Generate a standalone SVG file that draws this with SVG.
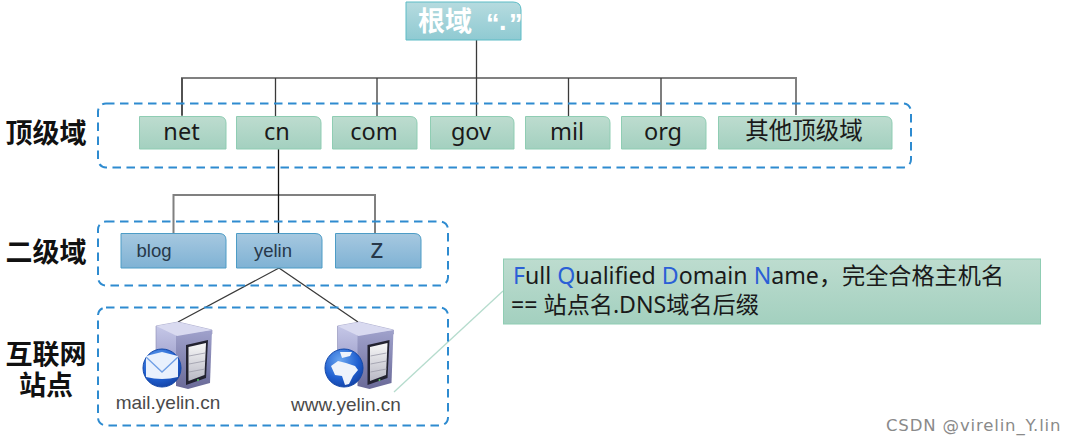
<svg xmlns="http://www.w3.org/2000/svg" width="1068" height="442" viewBox="0 0 1068 442">
<style>
.dash{fill:none;stroke:#2e8bd0;stroke-width:2;stroke-dasharray:8.5 5.5}
.gb{fill:url(#g);stroke:#8fcdb3;stroke-width:1}
.bb{fill:url(#b);stroke:#4d9cc6;stroke-width:1}
.h{fill:none;stroke:#808080;stroke-width:2}
.v{fill:none;stroke:#3a3a3a;stroke-width:1.3}
.t{font-family:"Noto Sans","Noto Sans CJK SC",sans-serif;font-size:23.500px;fill:#1a1a1a;text-anchor:middle}
.l{font-family:"Noto Sans CJK SC",sans-serif;font-size:27px;font-weight:700;fill:#111;text-anchor:middle}
.a{font-family:"Liberation Sans",sans-serif;font-size:18.5px;fill:#27384a;text-anchor:middle}
.s{font-family:"Liberation Sans",sans-serif;font-size:19px;fill:#4a4a4a;text-anchor:middle}
.c{font-family:"Noto Sans","Noto Sans CJK SC",sans-serif;font-size:23.150px;fill:#1a1a1a}
.k{fill:#2a5fd6}
</style>
<defs>
<linearGradient id="g" x1="0" y1="0" x2="0" y2="1"><stop offset="0" stop-color="#bddccf"/><stop offset="1" stop-color="#a3d0bf"/></linearGradient>
<linearGradient id="b" x1="0" y1="0" x2="0" y2="1"><stop offset="0" stop-color="#a6c8e0"/><stop offset="1" stop-color="#7fb2d4"/></linearGradient>
<linearGradient id="r" x1="0" y1="0" x2="0" y2="1"><stop offset="0" stop-color="#b6dbdf"/><stop offset="1" stop-color="#8fcad2"/></linearGradient>
<linearGradient id="sf" x1="0" y1="0" x2="0" y2="1"><stop offset="0" stop-color="#c9cbea"/><stop offset="1" stop-color="#8f90c0"/></linearGradient>
<linearGradient id="sr" x1="0" y1="0" x2="0" y2="1"><stop offset="0" stop-color="#a0a2cc"/><stop offset="1" stop-color="#6a6a98"/></linearGradient>
<linearGradient id="sc" x1="0" y1="0" x2="0" y2="1"><stop offset="0" stop-color="#f8f8f8"/><stop offset="1" stop-color="#b8b8c4"/></linearGradient>
<radialGradient id="gl" cx="0.4" cy="0.3" r="0.8"><stop offset="0" stop-color="#6aa6f0"/><stop offset="0.6" stop-color="#1f5fd0"/><stop offset="1" stop-color="#123c9a"/></radialGradient>
<g id="srv">
<path d="M156 326L178 322L212 330L212 334L178 339L176 380L156 372Z" fill="url(#sf)" stroke="#8a8ab4" stroke-width=".6"/>
<path d="M176 335L212 330L210 383L188 389L176 386Z" fill="url(#sr)"/>
<path d="M156 326L178 322L212 330L177 336Z" fill="#d9daf0"/>
<path d="M186 345L208 340L206 378L186 385Z" fill="#222230"/>
<path d="M188.500 347L206 343L204.500 375L188.500 381Z" fill="url(#sc)"/>
<path d="M189 356L205 353M189 364L205 361M189 372L205 369" stroke="#9a9aa8" stroke-width=".8" fill="none"/>
<circle cx="198" cy="380" r="1" fill="#55cc66"/>
</g>
</defs>
<rect width="1068" height="442" fill="#fff"/>
<g id="connectors">
<path class="h" d="M182 115V78H796V115"/>
<path class="v" d="M476.500 40V116M568.500 78V116M661 78V116M275.500 78V116M377 78V116M182 78V116"/>
<path class="h" d="M173.500 233V195H375V233"/>
<path d="M278.500 149V233" fill="none" stroke="#111" stroke-width="1.300"/>
<path class="v" d="M279 268L178 322M279 268L358 322"/>
<path d="M394 392L503 291" fill="none" stroke="#b5dccd" stroke-width="1.300"/>
</g>
<g id="group-top"><rect class="dash" x="98" y="103.500" width="813" height="64" rx="8"/></g>
<g id="group-second"><rect class="dash" x="98" y="221.500" width="350" height="64" rx="8"/></g>
<g id="group-sites"><rect class="dash" x="98" y="307.500" width="350" height="118" rx="8"/></g>
<g id="root"><path d="M406 2H513Q521 2 521 10V40H406Z" fill="url(#r)" stroke="#5dbcc6"/><text x="418" y="31" font-family="Noto Sans CJK SC,sans-serif" font-size="27" font-weight="700" fill="#fff">根域<tspan font-family="Liberation Sans,sans-serif" x="486" y="33">“</tspan><tspan font-family="Liberation Sans,sans-serif" x="499" y="30">.</tspan><tspan font-family="Liberation Sans,sans-serif" x="509" y="33">”</tspan></text></g>
<g id="net"><path class="gb" d="M139.500 116.500H219Q226 116.500 226 123V149H139.500Z"/><text class="t" x="181.500" y="140">net</text></g>
<g id="cn"><path class="gb" d="M236.500 116.500H314Q321 116.500 321 123V149H236.500Z"/><text class="t" x="277" y="140">cn</text></g>
<g id="com"><path class="gb" d="M332.500 116.500H410Q417 116.500 417 123V149H332.500Z"/><text class="t" x="374" y="140">com</text></g>
<g id="gov"><path class="gb" d="M430.500 116.500H507Q514 116.500 514 123V149H430.500Z"/><text class="t" x="471" y="140">gov</text></g>
<g id="mil"><path class="gb" d="M525.500 116.500H603Q610 116.500 610 123V149H525.500Z"/><text class="t" x="567" y="140">mil</text></g>
<g id="org"><path class="gb" d="M621.500 116.500H699Q706 116.500 706 123V149H621.500Z"/><text class="t" x="663" y="140">org</text></g>
<g id="other"><path class="gb" d="M718.500 116.500H885Q892 116.500 892 123V149H718.500Z"/><text class="t" x="804" y="139">其他顶级域</text></g>
<g id="blog"><path class="bb" d="M121 233.500H219Q226 233.500 226 240V268H121Z"/><text class="a" x="154" y="257">blog</text></g>
<g id="yelin"><path class="bb" d="M236.500 233.500H315Q322 233.500 322 240V268H236.500Z"/><text class="a" x="273" y="257">yelin</text></g>
<g id="z"><path class="bb" d="M335.500 233.500H414Q421 233.500 421 240V268H335.500Z"/><text class="a" x="377" y="257.500" style="font-size:27px">z</text></g>
<g id="label-top"><text class="l" x="46" y="143">顶级域</text></g>
<g id="label-second"><text class="l" x="46" y="262">二级域</text></g>
<g id="label-sites"><text class="l" x="46" y="364">互联网</text><text class="l" x="46" y="395">站点</text></g>
<g id="mail">
<use href="#srv"/>
<circle cx="162" cy="368" r="19" fill="url(#gl)" stroke="#1347a8"/>
<path d="M146 356L162 352L178 356V377Q162 381 146 377Z" fill="#e9f1fd"/>
<path d="M146 357L162 372L178 357" fill="none" stroke="#6f9fe6" stroke-width="1.300"/>
<text class="s" x="168" y="409">mail.yelin.cn</text>
</g>
<g id="www">
<use href="#srv" x="181.500"/>
<circle cx="344" cy="368" r="19" fill="url(#gl)" stroke="#1347a8"/>
<path d="M340 352L352 352L350 356L342 358ZM331 366L338 361L346 363L355 366L358 370L353 376L349 384L345 385L342 376L335 375Z" fill="#eef3fb"/>
<text class="s" x="346" y="411">www.yelin.cn</text>
</g>
<g id="note">
<rect x="503.500" y="259" width="537" height="65" fill="url(#g)" stroke="#8fcdb3"/>
<text class="c" x="513" y="284"><tspan class="k">F</tspan>ull <tspan class="k">Q</tspan>ualified <tspan class="k">D</tspan>omain <tspan class="k">N</tspan>ame，完全合格主机名</text>
<text class="c" x="511" y="313">== 站点名.DNS域名后缀</text>
</g>
<text x="886" y="431" font-family="DejaVu Sans,sans-serif" font-size="16.500" letter-spacing="0.850" fill="#8a8a8a">CSDN @virelin_Y.lin</text>
</svg>
